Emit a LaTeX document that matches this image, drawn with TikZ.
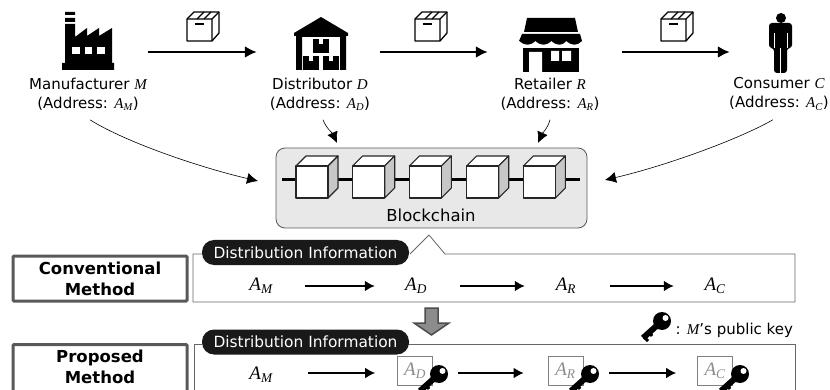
\documentclass[tikz,border=0pt]{standalone}
\usepackage{fontspec}
\setmainfont{DejaVu Sans}
\newfontfamily\varfont{Liberation Serif}
\usepackage{amsmath}
\usetikzlibrary{arrows.meta}
\colorlet{frameline}{black!60}
\colorlet{pillfill}{black!90}
\colorlet{chainfill}{black!9}
\colorlet{faded}{black!45}
\newcommand{\mv}[1]{\text{\varfont\itshape #1}}

\tikzset{
    flow/.style={line width=2.5pt,-{Latex[length=12pt,width=12pt]}},
    rowflow/.style={line width=2.5pt,-{Latex[length=10pt,width=11pt]}},
    feed/.style={line width=0.6pt,-{Latex[length=11pt,width=11pt]}},
    iconspot/.style={inner sep=0pt,minimum height=2pt},
    who/.style={align=center,font=\fontsize{15}{19}\selectfont},
    method/.style={draw=black!65,line width=3pt,fill=white,rounded corners=1pt,align=center,
        minimum width=174pt,minimum height=45pt,inner sep=0pt,
        font=\fontsize{16.5}{21}\selectfont\bfseries},
    pill/.style={fill=pillfill,text=white,rounded corners=12pt,minimum width=207pt,minimum height=25pt,
        inner sep=0pt,font=\fontsize{15.4}{17}\selectfont},
    addr/.style={minimum width=60pt,inner sep=0pt,font=\fontsize{19}{21}\selectfont},
    sealed/.style={draw=black!50,line width=0.7pt,text=faded,fill=white,minimum width=35pt,minimum height=29pt,
        inner sep=0pt,font=\fontsize{19}{21}\selectfont}
}

\newcommand{\parcel}[2]{
    \begin{scope}[shift={(#1,#2)},line width=1.3pt,line join=round]
        \draw [fill=white] (0,7) -- (7,0) -- (32,0) -- (32,21) -- (25,29) -- (0,29) -- cycle;
        \draw (0,7) -- (25,7) -- (25,29) (25,7) -- (32,0);
        \draw (10,7) -- (17,0) (17,7) -- (24,0);
        \draw [line width=1.5pt] (8,12) -- (17,12);
    \end{scope}
}
\newcommand{\keyicon}[2]{
    \begin{scope}[shift={(#1,#2)}]
        \draw [line width=6pt] (0,0) -- (-19,17);
        \draw [line width=3pt] (-13,11) -- (-10,15) (-18,16) -- (-14,20);
        \fill (0,0) circle (9);
        \fill [white] (3.5,-3) circle (3);
    \end{scope}
}
\newcommand{\cubeicon}[1]{
    \begin{scope}[shift={(#1,166)},draw=black!85,line width=1.1pt,line join=round]
        \draw [fill=white] (0,0) -- (10,-10) -- (42,-10) -- (32,0) -- cycle;
        \draw [fill=black!22] (32,0) -- (42,-10) -- (42,22) -- (32,32) -- cycle;
        \draw [fill=white] (0,0) rectangle (32,32);
    \end{scope}
}

\begin{document}
\begin{tikzpicture}[x=1pt,y=-1pt]
            \clip (0,0) rectangle (830,390);

            \node [iconspot,minimum width=52pt] (manu) at (88,52) {};
            \node [iconspot,minimum width=55pt] (dist) at (320.5,52) {};
            \node [iconspot,minimum width=62pt] (ret) at (550,52) {};
            \node [iconspot,minimum width=23pt] (cons) at (780.5,52) {};

            % factory
            \fill (65,12) rectangle (75,15) (65,18) rectangle (75,22);
            \fill (62,70) -- (62,63) -- (65,63) -- (65,24) -- (75,24) -- (75,37) -- (87,28) -- (87,36)
                -- (99,28) -- (99,36) -- (112,28) -- (112,63) -- (114,63) -- (114,70) -- cycle;
            \foreach \x in {72,84.5,97} {
                \fill [white] (\x,47) rectangle ({\x+7.5},54);
            }

            % warehouse
            \fill (321,17) -- (348,33) -- (348,36) -- (346,36) -- (346,70) -- (340,70) -- (340,37) -- (302,37)
                -- (302,70) -- (296,70) -- (296,36) -- (294,36) -- (294,33) -- cycle;
            \foreach \x/\y in {313/39,303/56,323/56} {
                \fill (\x,\y) rectangle ({\x+15.5},{\y+14});
                \fill [white] ({\x+6},\y) rectangle ({\x+9.5},{\y+5.5});
            }

            % shop
            \fill (527,18) -- (575,18) -- (578,32) -- (524,32) -- cycle;
            \fill (519,41) -- (522,34) -- (580,34) -- (582,41)
                \foreach \x in {582,567,551,535} {
                    .. controls ({\x-5},46) and ({\x-10},46) .. ({\x-15.6},41)
                } -- cycle;
            \fill (523,48) -- (579,48) -- (579,72) -- (523,72) -- cycle;
            \fill [white] (529,52) rectangle (542,72) (551,51) rectangle (559,61) (562,51) rectangle (571,61);

            % person
            \fill (781,18) circle (5);
            \fill [rounded corners=3pt] (769,48) -- (769,23) -- (792,23) -- (792,48) -- (787,48) -- (787,73)
                -- (774,73) -- (774,48) -- cycle;
            \draw [white,line width=0.5pt] (774,33) -- (774,48) (787,33) -- (787,48) (780.5,48) -- (780.5,73);

            \parcel{187}{12}
            \parcel{415}{12}
            \parcel{661}{12}

            \foreach \a/\b/\s/\e in {manu/dist/34/36,dist/ret/32/31,ret/cons/41/39} {
                \draw [flow,shorten <=\s pt,shorten >=\e pt] (\a.east) -- (\b.west);
            }

            \node [who] (manutext) at (88,94) {Manufacturer $\mv{M}$\\(Address: $\mv{A}_{\mv{M}}$)};
            \node [who] (disttext) at (320,94) {Distributor $\mv{D}$\\(Address: $\mv{A}_{\mv{D}}$)};
            \node [who] (rettext) at (550,94) {Retailer $\mv{R}$\\(Address: $\mv{A}_{\mv{R}}$)};
            \node [who] (constext) at (779,94) {Consumer $\mv{C}$\\(Address: $\mv{A}_{\mv{C}}$)};

            \node [draw=black!65,line width=0.8pt,fill=chainfill,rounded corners=9pt,minimum width=311pt,minimum height=80pt,
                inner sep=0pt] (chain) at (431.5,188) {};
            \node [font=\fontsize{16.5}{18}\selectfont] (chainname) at (431,215) {Blockchain};
            \draw [line width=3pt] (282,180) -- (580,180);
            \foreach \x in {296,352.7,409.3,466.7,523.3} {
                \cubeicon{\x}
            }

            \coordinate (manutip) at (258,181);
            \coordinate (disttip) at (337,143);
            \coordinate (rettip) at (538,143);
            \coordinate (constip) at (605,180);
            \draw [feed] (manutext.south) ++(2,6) .. controls +(35,22) and +(-60,-14) .. (manutip);
            \draw [feed] (disttext.south) ++(3,6) .. controls +(3,8) and +(-4,-9) .. (disttip);
            \draw [feed] (rettext.south) ++(0,6) .. controls +(-2,8) and +(4,-9) .. (rettip);
            \draw [feed] (constext.south) ++(-6,6) .. controls +(-35,20) and +(60,-14) .. (constip);

            % conventional
            \node [method] (convname) at (100,278.5) {Conventional\\Method};
            \draw [frameline,line width=0.8pt,line join=round] (410,254) -- (429,235) -- (445,254) -- (795,254) -- (795,302)
                -- (193,302) -- (193,254) -- (202,254);
            \node [pill] (convpill) at (305.5,252.5) {Distribution Information};
            \node [addr] (cm) at (261,286) {$\mv{A}_{\mv{M}}$};
            \node [addr] (cd) at (416,286) {$\mv{A}_{\mv{D}}$};
            \node [addr] (cr) at (566,286) {$\mv{A}_{\mv{R}}$};
            \node [addr] (cc) at (715,286) {$\mv{A}_{\mv{C}}$};
            \foreach \a/\b in {cm/cd,cd/cr,cr/cc} {
                \draw [rowflow,shorten <=14pt,shorten >=11pt] (\a.east) -- (\b.west);
            }

            \draw [fill=black!45,draw=black!70,line width=1.5pt,line join=miter] (425,308) -- (438,308) -- (438,323) -- (449,323)
                -- (431.5,335) -- (414,323) -- (425,323) -- cycle;

            \keyicon{662}{321}
            \node [anchor=west,font=\fontsize{15}{18}\selectfont] (keytext) at (672,330) {: $\mv{M}$'s public key};

            % proposed
            \node [method,minimum height=55pt] (propname) at (100,372) {};
            \node [align=center,font=\fontsize{16.5}{21}\selectfont\bfseries] (proptext) at (100,367) {Proposed\\Method};
            \draw [frameline,line width=0.8pt] (202,344) -- (194,344) -- (194,400) (795,400) -- (795,344) -- (408,344);
            \node [pill] (proppill) at (305.5,342) {Distribution Information};
            \node [addr] (pm) at (261,375) {$\mv{A}_{\mv{M}}$};
            \node [sealed] (pd) at (415,370.5) {$\mv{A}_{\mv{D}}$};
            \node [sealed] (pr) at (565.5,370.5) {$\mv{A}_{\mv{R}}$};
            \node [sealed] (pc) at (715,370.5) {$\mv{A}_{\mv{C}}$};
            \keyicon{439}{374}
            \keyicon{590}{374}
            \keyicon{740}{374}
            \coordinate (rowline) at (0,373);
            \foreach \a/\b/\s/\e in {pm/pd/17/22,pd/pr/25/24,pr/pc/26/21} {
                \draw [rowflow,shorten <=\s pt,shorten >=\e pt] (\a.east |- rowline) -- (\b.west |- rowline);
            }
        \end{tikzpicture}
\end{document}
